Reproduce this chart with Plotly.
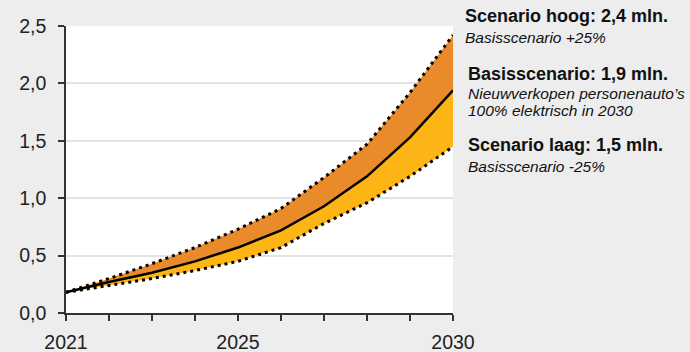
import plotly.graph_objects as go

# Aantal elektrische personenauto's (mln.), 2021-2030
years = [2021, 2022, 2023, 2024, 2025, 2026, 2027, 2028, 2029, 2030]
basis = [0.18, 0.27, 0.35, 0.45, 0.57, 0.72, 0.93, 1.19, 1.53, 1.94]
hoog = [0.18, 0.30, 0.43, 0.57, 0.73, 0.91, 1.18, 1.47, 1.92, 2.42]
laag = [0.18, 0.24, 0.30, 0.37, 0.45, 0.57, 0.78, 0.96, 1.19, 1.45]

x_labels = {2021: "2021", 2025: "2025", 2030: "2030"}
y_ticks = [0, 0.5, 1.0, 1.5, 2.0, 2.5]

ORANJE = "#E98B2A"
GEEL = "#FDB515"
ZWART = "#000000"

fig = go.Figure()

# Gevulde banden: laag -> basis (geel), basis -> hoog (oranje)
fig.add_trace(go.Scatter(x=years, y=laag, mode="lines", line=dict(width=0),
                         hoverinfo="skip", showlegend=False))
fig.add_trace(go.Scatter(x=years, y=basis, mode="lines", line=dict(width=0),
                         fill="tonexty", fillcolor=GEEL, hoverinfo="skip", showlegend=False))
fig.add_trace(go.Scatter(x=years, y=hoog, mode="lines", line=dict(width=0),
                         fill="tonexty", fillcolor=ORANJE, hoverinfo="skip", showlegend=False))

# Lijnen bovenop de vlakken
fig.add_trace(go.Scatter(x=years, y=hoog, mode="lines", name="Scenario hoog",
                         line=dict(color=ZWART, width=3, dash="3px,4px"), showlegend=False))
fig.add_trace(go.Scatter(x=years, y=laag, mode="lines", name="Scenario laag",
                         line=dict(color=ZWART, width=3, dash="3px,4px"), showlegend=False))
fig.add_trace(go.Scatter(x=years, y=basis, mode="lines", name="Basisscenario",
                         line=dict(color=ZWART, width=2.5), showlegend=False))

L, R, T, B = 66, 237, 26, 39
W, H = 690, 352
pw, ph = W - L - R, H - T - B


def px(xp):
    return (xp - L) / pw


def py(yp):
    return (H - B - yp) / ph


font = "Liberation Sans, Arial, Helvetica, sans-serif"
annotations = []


def tekst(txt, x, y, size, bold=False, italic=False):
    s = txt
    if bold:
        s = f"<b>{s}</b>"
    if italic:
        s = f"<i>{s}</i>"
    annotations.append(dict(text=s, xref="paper", yref="paper", x=px(x), y=py(y),
                            xanchor="left", yanchor="middle", showarrow=False,
                            borderpad=0,
                            font=dict(family=font, size=size, color="#111111")))


tekst("Scenario hoog: 2,4 mln.", 464, 16, 18, bold=True)
tekst("Basisscenario +25%", 464, 37, 15.5, italic=True)
tekst("Basisscenario: 1,9 mln.", 467, 74, 18, bold=True)
tekst("Nieuwverkopen personenauto’s", 467, 93.5, 15.5, italic=True)
tekst("100% elektrisch in 2030", 467, 110, 15.5, italic=True)
tekst("Scenario laag: 1,5 mln.", 467, 145, 18, bold=True)
tekst("Basisscenario -25%", 467, 166, 15.5, italic=True)

fig.update_layout(
    width=W, height=H,
    margin=dict(l=L, r=R, t=T, b=B, autoexpand=False),
    paper_bgcolor="#EDEDED",
    plot_bgcolor="#FFFFFF",
    separators=",.",
    font=dict(family=font, size=19.5, color="#222222"),
    annotations=annotations,
    xaxis=dict(
        range=[2021, 2030],
        tickvals=years,
        ticktext=[x_labels.get(y, "") for y in years],
        ticks="outside", ticklen=6, tickwidth=1.5, tickcolor="#333333",
        showline=True, linecolor="#333333", linewidth=1.5,
        showgrid=False, zeroline=False, automargin=False,
        ticklabelstandoff=5,
        tickfont=dict(size=19.5, color="#222222"),
    ),
    yaxis=dict(
        range=[0, 2.5],
        tickvals=y_ticks,
        tickformat=".1f",
        ticks="outside", ticklen=6, tickwidth=1.5, tickcolor="#333333",
        showline=True, linecolor="#333333", linewidth=1.5,
        showgrid=True, gridcolor="#E3E3E3", gridwidth=1.5,
        zeroline=False, automargin=False,
        ticklabelstandoff=8,
        tickfont=dict(size=19.5, color="#222222"),
    ),
)

fig.write_html("out.html")
